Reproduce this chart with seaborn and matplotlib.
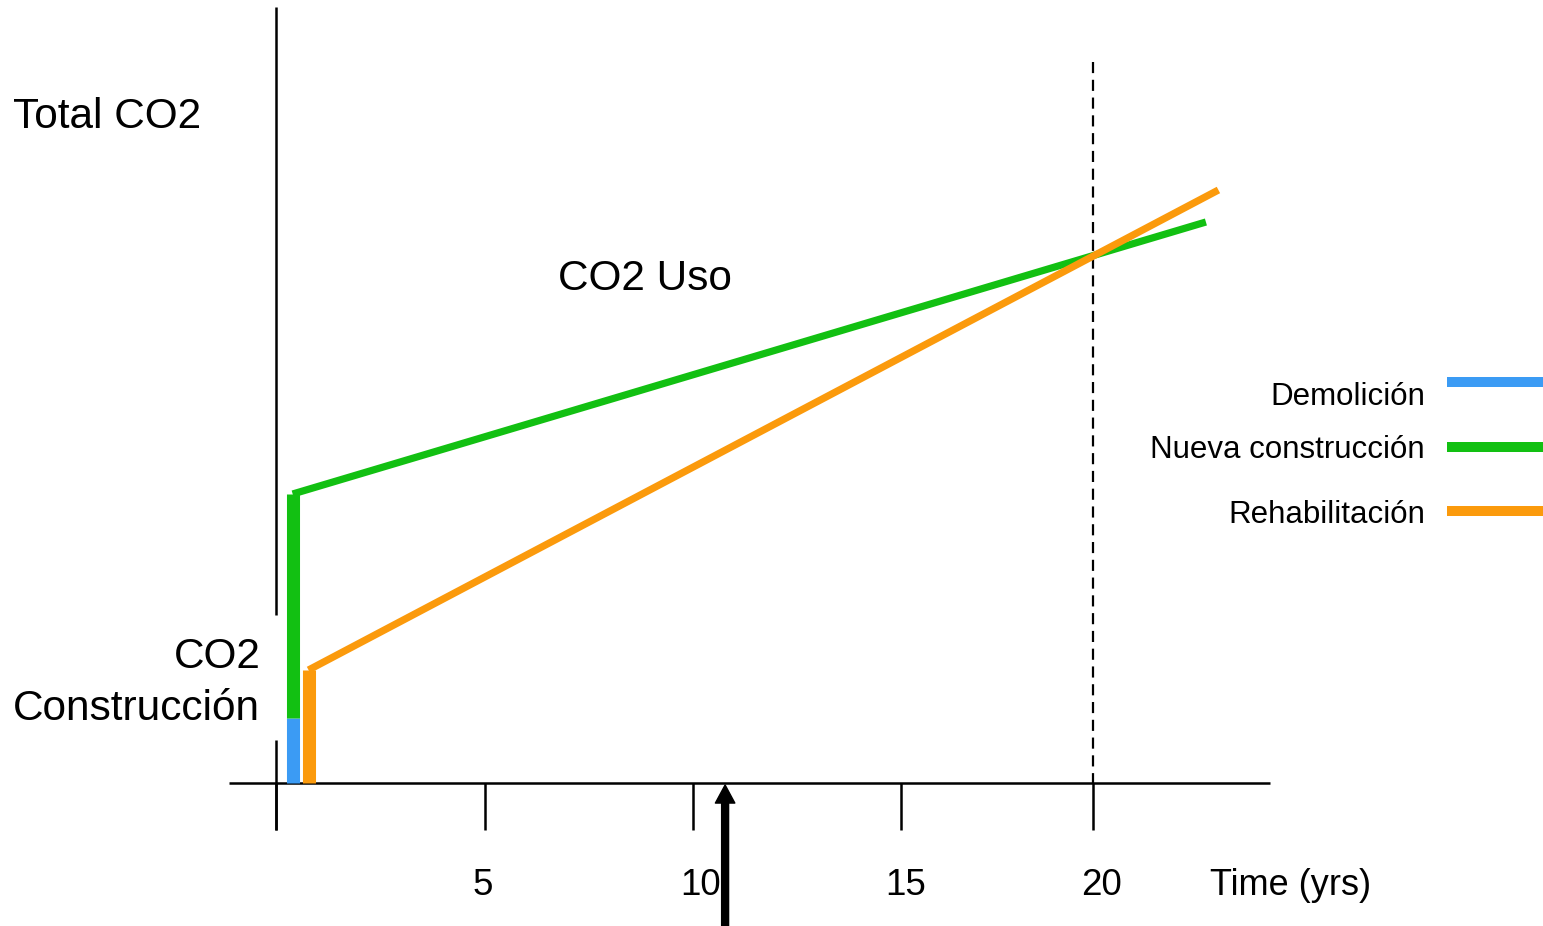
import matplotlib
matplotlib.use("Agg")
import matplotlib.pyplot as plt
import numpy as np
import pandas as pd
import seaborn as sns

sns.set_theme(style="white")
plt.rcParams["font.family"] = ["Liberation Sans", "DejaVu Sans"]
plt.rcParams["text.color"] = "black"

# ---- data -------------------------------------------------------------
series = ["Demolición", "Nueva construcción", "Rehabilitación"]
colors = {"Demolición": "#3b9bf4",
          "Nueva construcción": "#12c012",
          "Rehabilitación": "#fb9a0c"}

# embodied CO2 at the start (stacked bars at year ~0)
demolition_co2 = 6.5          # demolition of the old building
new_build_co2 = 28.9          # demolition + new construction
retrofit_co2 = 11.3           # rehabilitation works
new_build_year = 0.40
retrofit_year = 0.78

# cumulative CO2 (embodied + operational) over time
new_years = [0.40, 22.3]
new_total = [28.9, 56.1]
retro_years = [0.78, 22.6]
retro_total = [11.3, 59.3]

tick_years = [0, 5, 10, 15, 19.6]
tick_labels = ["", "5", "10", "15", "20"]
break_even_year = 19.6
marker_year = 10.77

# ---- figure -----------------------------------------------------------
W, H, DPI = 1543, 926, 100
fig = plt.figure(figsize=(W / DPI, H / DPI), dpi=DPI)
ax = fig.add_axes([0, 0, 1, 1])
ax.set_axis_off()
PX_X, X0 = 41.7, 276        # pixels per year, origin pixel
PX_Y, Y0 = 10.0, 783        # pixels per unit, origin pixel (from top)
ax.set_xlim(-X0 / PX_X, (W - X0) / PX_X)
ax.set_ylim(-(H - Y0) / PX_Y, Y0 / PX_Y)

def dx(px):
    return (px - X0) / PX_X

def dy(py):
    return (Y0 - py) / PX_Y

# axes drawn by hand
ax.plot([dx(229), dx(1270)], [0, 0], color="black", lw=1.8, solid_capstyle="butt")
ax.plot([0, 0], [dy(7), dy(615)], color="black", lw=1.8, solid_capstyle="butt")
ax.plot([0, 0], [dy(740), dy(830)], color="black", lw=1.8, solid_capstyle="butt")
ax.vlines(tick_years, dy(830), 0, color="black", lw=1.8, capstyle="butt")
label_shift = [0.0, -0.05, 0.17, 0.1, 0.19]
for t, lab, s in zip(tick_years, tick_labels, label_shift):
    if lab:
        ax.text(t + s, dy(895), lab, ha="center", va="baseline", fontsize=26.5)
ax.text(dx(1210), dy(895), "Time (yrs)", ha="left", va="baseline", fontsize=26)

# break-even line
ax.plot([break_even_year, break_even_year], [dy(62), 0], color="black",
        lw=1.6, dashes=(5, 3))

# embodied CO2 bars
bar_lw = 9.4
ax.vlines(new_build_year, 0, demolition_co2, color=colors["Demolición"],
          lw=bar_lw, capstyle="butt")
ax.vlines(new_build_year, demolition_co2, new_build_co2,
          color=colors["Nueva construcción"], lw=bar_lw, capstyle="butt")
ax.vlines(retrofit_year, 0, retrofit_co2, color=colors["Rehabilitación"],
          lw=bar_lw, capstyle="butt")

# cumulative lines
df = pd.DataFrame({
    "year": new_years + retro_years,
    "co2": new_total + retro_total,
    "escenario": ["Nueva construcción"] * 2 + ["Rehabilitación"] * 2,
})
sns.lineplot(data=df, x="year", y="co2", hue="escenario", palette=colors,
             estimator=None, sort=False, lw=5.2, legend=False, ax=ax,
             solid_capstyle="butt")

# arrow marking the current year
ax.annotate("", xy=(marker_year, dy(785)), xytext=(marker_year, dy(926)),
            arrowprops=dict(width=5, headwidth=14, headlength=13,
                            facecolor="black", edgecolor="black", shrink=0))

# labels
ax.text(dx(13), dy(128), "Total CO2", ha="left", va="baseline", fontsize=30.5)
ax.text(dx(558), dy(290), "CO2 Uso", ha="left", va="baseline", fontsize=30.5)
ax.text(dx(261), dy(668), "CO2", ha="right", va="baseline", fontsize=30.5)
ax.text(dx(13), dy(720), "Construcción", ha="left", va="baseline", fontsize=30.5)

# legend
swatch_y = [382, 447, 511]
label_y = [405, 458, 523]
for name, sy, ly in zip(series, swatch_y, label_y):
    ax.plot([dx(1447), dx(1543)], [dy(sy), dy(sy)], color=colors[name],
            lw=7.2, solid_capstyle="butt")
    ax.text(dx(1425), dy(ly), name, ha="right", va="baseline", fontsize=22.5)

fig.savefig("out.png", dpi=DPI, facecolor="white")
